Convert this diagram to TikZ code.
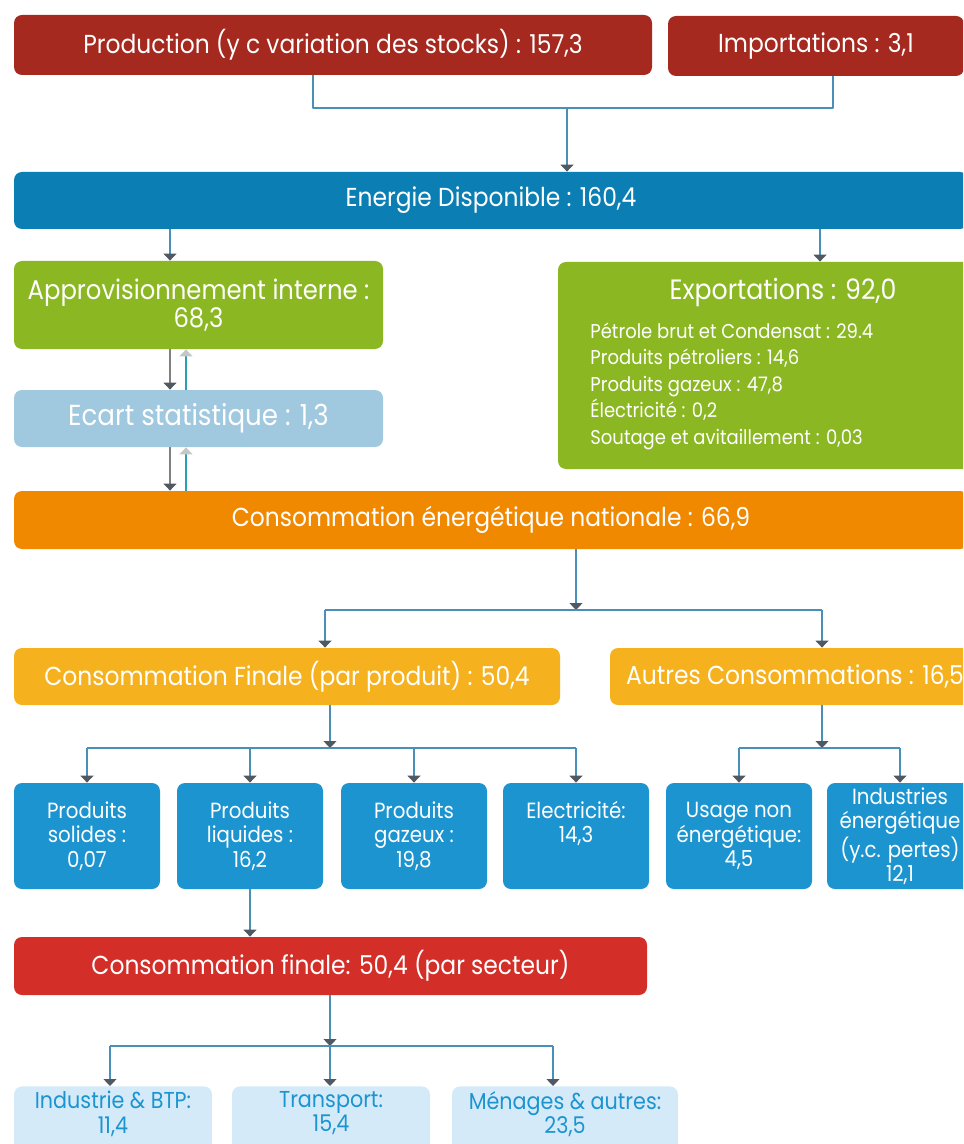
\documentclass[tikz,border=0pt]{standalone}
\usepackage{fontspec}
\setmainfont{Poppins}[FakeStretch=0.9]
\usetikzlibrary{arrows.meta}
\definecolor{rougeprod}{RGB}{165,41,31}
\definecolor{bleuener}{RGB}{11,127,180}
\definecolor{vertappro}{RGB}{139,183,35}
\definecolor{bleuecart}{RGB}{160,200,222}
\definecolor{orangecons}{RGB}{240,137,0}
\definecolor{jaunecons}{RGB}{245,178,30}
\definecolor{bleuprod}{RGB}{27,148,208}
\definecolor{rougesect}{RGB}{212,46,41}
\definecolor{bleupale}{RGB}{212,234,248}
\definecolor{trait}{RGB}{74,143,184}
\definecolor{pointe}{RGB}{80,88,98}
\definecolor{traitretour}{RGB}{42,160,180}

\begin{document}
\begin{tikzpicture}[x=0.5pt, y=-0.5pt, line join=round,
    boite/.style={rounded corners=4pt, inner sep=0pt, text=white, align=center, font=\fontsize{13}{15}\selectfont},
    petite/.style={boite, fill=bleuprod, minimum width=73pt, minimum height=53pt, font=\fontsize{11}{12.2}\selectfont},
    secteur/.style={boite, fill=bleupale, text=bleuprod, anchor=north, inner ysep=2.5pt, text depth=22pt, font=\fontsize{11.5}{12.2}\selectfont},
    lien/.style={draw=trait, line width=0.6pt},
    fleche/.style={lien, -{Triangle[width=6.5pt,length=3.5pt,color=pointe]}},
    retour/.style={draw=traitretour, line width=0.6pt, -{Triangle[width=6.5pt,length=3.5pt,color=gray!45]}}]
\useasboundingbox (0,0) rectangle (963,1144);
\clip (0,0) rectangle (963,1144);

% ressources
\node[boite, fill=rougeprod, minimum width=319pt, minimum height=30pt] (prod) at (333,45) {Production (y c variation des stocks) : 157,3};
\node[boite, fill=rougeprod, minimum width=148pt, minimum height=30pt] (imp) at (816,46) {Importations : 3,1};
\node[boite, fill=bleuener, minimum width=477pt, minimum height=28.5pt] (ener) at (491,200.5) {Energie Disponible : 160,4};

% emplois
\node[boite, fill=vertappro, minimum width=184.5pt, minimum height=44pt, font=\fontsize{13.5}{14}\selectfont] (appro) at (198.5,305) {Approvisionnement interne :\\68,3};
\node[boite, fill=vertappro, minimum width=225pt, minimum height=103.5pt] (exp) at (783,365.5) {};
\node[text=white, inner sep=0pt, font=\fontsize{14}{15}\selectfont] (exptitre) at (783,292) {Exportations : 92,0};
\node[text=white, anchor=west, align=left, inner sep=0pt, font=\fontsize{10}{13.25}\selectfont] (expdet) at (590,386) {Pétrole brut et Condensat : 29.4\\Produits pétroliers : 14,6\\Produits gazeux : 47,8\\Électricité : 0,2\\Soutage et avitaillement : 0,03};
\node[boite, fill=bleuecart, minimum width=184.5pt, minimum height=28.5pt, font=\fontsize{14.5}{16}\selectfont] (ecart) at (198.5,418.5) {Ecart statistique : 1,3};
\node[boite, fill=orangecons, minimum width=477pt, minimum height=29pt] (cnat) at (491,520) {Consommation énergétique nationale : 66,9};

% consommations
\node[boite, fill=jaunecons, minimum width=273pt, minimum height=28.5pt] (cfin) at (287,676.5) {Consommation Finale (par produit) : 50,4};
\node[boite, fill=jaunecons, minimum width=185pt, minimum height=28.5pt] (autres) at (795,676.5) {Autres Consommations : 16,5};
\foreach \nom/\cx/\txt in {sol/87/{Produits\\solides :\\0,07}, liq/250/{Produits\\liquides :\\16,2}, gaz/414/{Produits\\gazeux :\\19,8}, usage/739/{Usage non\\énergétique:\\4,5}, indus/900/{Industries\\énergétique\\(y.c. pertes)\\12,1}}
  \node[petite] (\nom) at (\cx,836) {\txt};
\node[petite, text depth=14pt] (elec) at (576,836) {Electricité:\\14,3};

% secteurs
\node[boite, fill=rougesect, minimum width=316.5pt, minimum height=29pt] (sect) at (330.5,966) {Consommation finale: 50,4 (par secteur)};
\node[secteur, minimum width=99pt] (ind) at (113,1086) {Industrie \& BTP:\\11,4};
\node[secteur, minimum width=99pt] (tra) at (331,1086) {Transport:\\15,4};
\node[secteur, minimum width=113pt] (men) at (565,1086) {Ménages \& autres:\\23,5};

% liens
\coordinate (jprod) at (313,108);
\coordinate (jimp) at (833,108);
\coordinate (jsrc) at (567,108);
\draw[lien] (prod.south -| jprod) -- (jprod) -- (jimp) -- (imp.south -| jimp);
\draw[fleche] (jsrc) -- (ener.north -| jsrc);

\coordinate (va) at (170,240); \coordinate (vr) at (186,240); \coordinate (vx) at (820,240);
\draw[fleche] (ener.south -| va) -- (appro.north -| va);
\draw[fleche] (ener.south -| vx) -- (exp.north -| vx);
\draw[fleche, draw=gray] (appro.south -| va) -- (ecart.north -| va);
\draw[retour] (ecart.north -| vr) -- (appro.south -| vr);
\draw[fleche, draw=gray] (ecart.south -| va) -- (cnat.north -| va);
\draw[retour] (cnat.north -| vr) -- (ecart.south -| vr);

\coordinate (jcn) at (576,610); \coordinate (jcf) at (325,610); \coordinate (jau) at (822,610);
\draw[fleche] (cnat.south -| jcn) -- (jcn);
\draw[lien] (jcf) -- (jau);
\draw[fleche] (jcf) -- (cfin.north -| jcf);
\draw[fleche] (jau) -- (autres.north -| jau);

\coordinate (jfin) at (330,748); \coordinate (jaut) at (822,748);
\draw[fleche] (cfin.south -| jfin) -- (jfin);
\draw[lien] (sol.north |- jfin) -- (elec.north |- jfin);
\foreach \nom in {sol,liq,gaz,elec}
  \draw[fleche] (\nom.north |- jfin) -- (\nom.north);
\draw[fleche] (autres.south -| jaut) -- (jaut);
\draw[lien] (usage.north |- jaut) -- (indus.north |- jaut);
\foreach \nom in {usage,indus}
  \draw[fleche] (\nom.north |- jaut) -- (\nom.north);

\draw[fleche] (liq.south) -- (sect.north -| liq.south);
\coordinate (jsec) at (330,1046);
\coordinate (aind) at (110,1046); \coordinate (atra) at (330,1046); \coordinate (amen) at (553,1046);
\draw[fleche] (sect.south -| jsec) -- (jsec);
\draw[lien] (aind) -- (amen);
\foreach \nom/\pt in {ind/aind, tra/atra, men/amen}
  \draw[fleche] (\pt) -- (\nom.north -| \pt);
\end{tikzpicture}
\end{document}
